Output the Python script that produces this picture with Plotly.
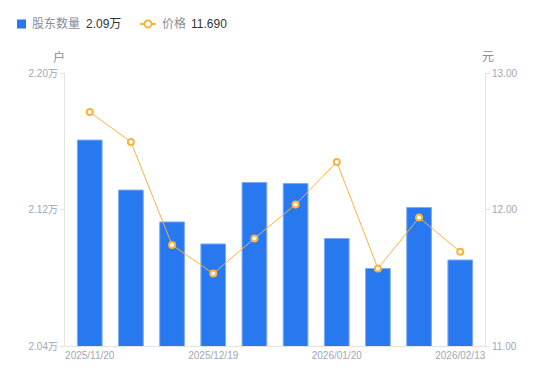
import plotly.graph_objects as go

dates = ["2025/11/20", "2025/11/28", "2025/12/10", "2025/12/19", "2025/12/31",
         "2026/01/09", "2026/01/20", "2026/01/30", "2026/02/10", "2026/02/13"]
holders = [2.1607, 2.1314, 2.1127, 2.0998, 2.1358, 2.1352, 2.1030, 2.0854, 2.1212, 2.0904]
price = [12.714, 12.495, 11.740, 11.531, 11.788, 12.037, 12.348, 11.568, 11.941, 11.690]
shown_dates = ["2025/11/20", "2025/12/19", "2026/01/20", "2026/02/13"]
left_ticks = [2.04, 2.12, 2.20]
right_ticks = [11.0, 12.0, 13.0]

FONT = "Liberation Sans, Arial, Noto Sans CJK SC, sans-serif"
GRAY = "#a3a6b4"
DARK = "#333333"
LBL = "#8a8c99"
BLUE = "#2878F0"
ORANGE = "#F9B33F"

# page offset (body margin) and plot area geometry, in screen pixels
OFF = 8
PL, PR, PT, PB = 65, 485, 73, 346
W, H = 550 - OFF, 381 - OFF
PW, PH = PR - PL, PB - PT


def px(sx):
    return (sx - PL) / PW


def py(sy):
    return (PB - sy) / PH


fig = go.Figure()
fig.add_trace(go.Bar(
    x=dates, y=holders, name="股东数量", yaxis="y",
    marker=dict(color=BLUE, line=dict(color="#7DAAF5", width=1)),
    width=0.6,
))
fig.add_trace(go.Scatter(
    x=dates, y=price, name="价格", yaxis="y2", mode="lines+markers",
    line=dict(color=ORANGE, width=1),
    marker=dict(symbol="circle", size=6, color="white", line=dict(color=ORANGE, width=2)),
))

ly = 24
shapes = [
    dict(type="rect", xref="paper", yref="paper", x0=px(17), x1=px(26), y0=py(28.5), y1=py(19.5),
         fillcolor=BLUE, line=dict(width=0)),
    dict(type="line", xref="paper", yref="paper", x0=px(140), x1=px(156), y0=py(ly), y1=py(ly),
         line=dict(color=ORANGE, width=2)),
    dict(type="circle", xref="paper", yref="paper", x0=px(144.5), x1=px(151.5), y0=py(27.5), y1=py(20.5),
         fillcolor="white", line=dict(color=ORANGE, width=2)),
]

annotations = [
    dict(text="股东数量", x=px(30), y=py(ly), xanchor="left", font=dict(size=12, color=LBL)),
    dict(text=f"{holders[-1]:.2f}万", x=px(84), y=py(ly), xanchor="left", font=dict(size=12, color=DARK)),
    dict(text="价格", x=px(160), y=py(ly), xanchor="left", font=dict(size=12, color=LBL)),
    dict(text=f"{price[-1]:.3f}", x=px(189), y=py(ly), xanchor="left", font=dict(size=12, color=DARK)),
    dict(text="户", x=px(59), y=py(57), xanchor="center", font=dict(size=12, color=LBL)),
    dict(text="元", x=px(488), y=py(57), xanchor="center", font=dict(size=12, color=LBL)),
]
for a in annotations:
    a.update(xref="paper", yref="paper", showarrow=False, yanchor="middle")

fig.update_layout(
    width=W, height=H,
    margin=dict(l=PL - OFF, r=W - (PR - OFF), t=PT - OFF, b=H - (PB - OFF), autoexpand=False),
    paper_bgcolor="white", plot_bgcolor="white",
    font=dict(family=FONT, size=11, color=GRAY),
    showlegend=False,
    bargap=0.4,
    xaxis=dict(type="category", tickmode="array", tickvals=shown_dates, ticktext=shown_dates,
               showline=True, linecolor="#e3e3e3", linewidth=1, ticks="", showgrid=False,
               tickfont=dict(size=10, color=GRAY), zeroline=False),
    yaxis=dict(range=[2.04, 2.20], tickvals=left_ticks,
               ticktext=[f"{v:.2f}万" for v in left_ticks],
               showline=True, linecolor="#e3e3e3", ticks="outside", ticklen=4, tickcolor="#e3e3e3",
               showgrid=False, zeroline=False, tickfont=dict(size=10, color=GRAY)),
    yaxis2=dict(range=[11, 13], tickvals=right_ticks,
                ticktext=[f"{v:.2f}" for v in right_ticks],
                overlaying="y", side="right",
                showline=True, linecolor="#e3e3e3", ticks="outside", ticklen=4, tickcolor="#e3e3e3",
                showgrid=False, zeroline=False, tickfont=dict(size=10, color=GRAY)),
    shapes=shapes,
    annotations=annotations,
)

fig.write_html("out.html")
